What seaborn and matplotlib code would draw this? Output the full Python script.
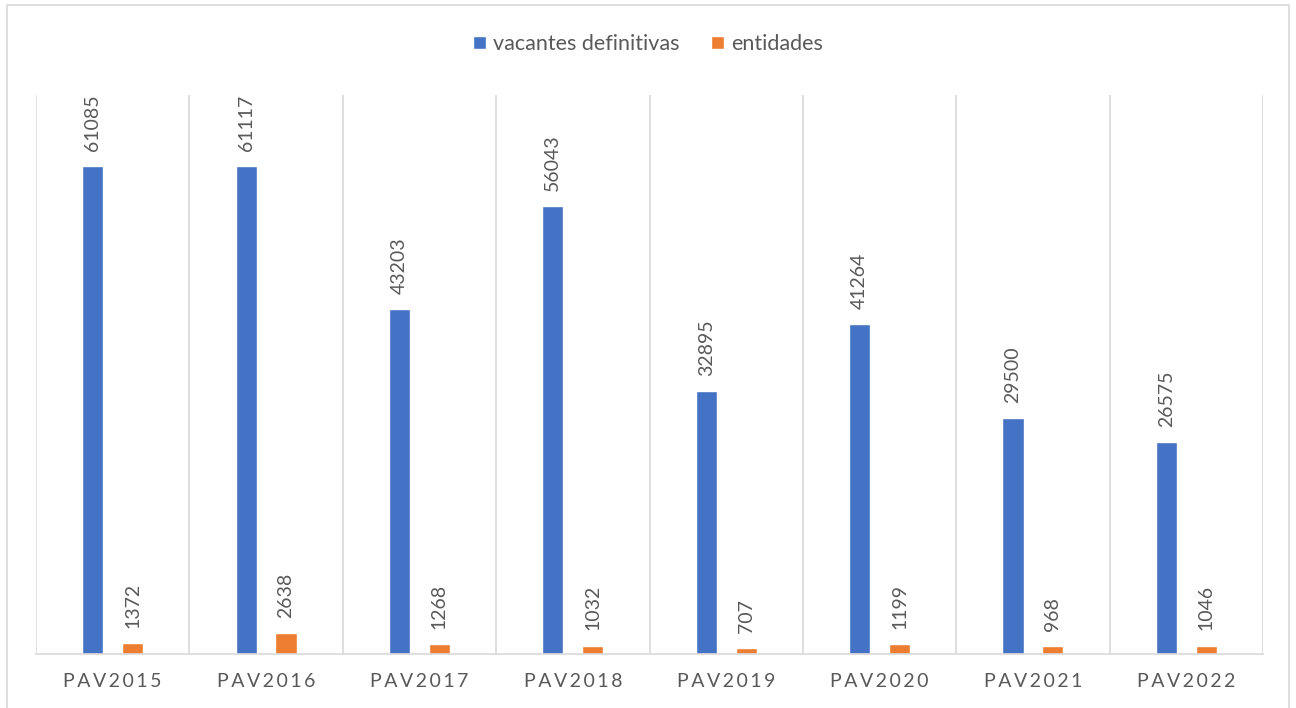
import matplotlib
matplotlib.use("Agg")
import matplotlib.pyplot as plt
import seaborn as sns
import pandas as pd
from matplotlib.patches import Rectangle

categories = ["PAV2015", "PAV2016", "PAV2017", "PAV2018", "PAV2019", "PAV2020", "PAV2021", "PAV2022"]
vacantes = [61085, 61117, 43203, 56043, 32895, 41264, 29500, 26575]
entidades = [1372, 2638, 1268, 1032, 707, 1199, 968, 1046]
series_names = ["vacantes definitivas", "entidades"]
colors = ["#4472C4", "#ED7D31"]

df = pd.DataFrame({
    "cat": categories * 2,
    "valor": vacantes + entidades,
    "serie": [series_names[0]] * len(categories) + [series_names[1]] * len(categories),
})

sns.set_style("white")
plt.rcParams['font.family'] = ['Lato', 'DejaVu Sans']

TXT = "#595959"
GRID = "#D9D9D9"

fig = plt.figure(figsize=(12.96, 7.08), dpi=100)
ax = fig.add_axes([36 / 1296, 1 - 654 / 708, (1263 - 36) / 1296, (654 - 95) / 708])
sns.barplot(data=df, x="cat", y="valor", hue="serie", palette=colors,
            width=0.52, gap=0.47, saturation=1, ax=ax)

for cont in ax.containers:
    ax.bar_label(cont, fmt="{:.0f}", rotation=90, padding=11, color=TXT, fontsize=14)

ax.set_xlim(-0.5, len(categories) - 0.5)
ax.set_ylim(0, 70000)
ax.set_yticks([])
ax.set_xlabel("")
ax.set_ylabel("")
ax.set_xticks(range(len(categories)))
ax.set_xticklabels(["\u2009".join(c) for c in categories], color=TXT, fontsize=14)
ax.tick_params(axis="x", which="both", length=0, pad=14)
ax.set_xticks([i - 0.5 for i in range(len(categories) + 1)], minor=True)
ax.grid(which="minor", axis="x", color=GRID, lw=1.2)
ax.grid(which="major", visible=False)
ax.set_axisbelow(True)
for s in ["top", "left", "right"]:
    ax.spines[s].set_visible(False)
ax.spines["bottom"].set_color(GRID)
ax.spines["bottom"].set_linewidth(1.2)

handles, labels = ax.get_legend_handles_labels()
ax.get_legend().remove()
fig.legend(handles, labels, loc="center", bbox_to_anchor=(0.5, 1 - 44 / 708), ncol=2,
           frameon=False, fontsize=15.5, labelcolor=TXT, handlelength=0.6, handleheight=0.6,
           handletextpad=0.3, columnspacing=1.5)

fig.add_artist(Rectangle((7 / 1296, -0.02), (1289 - 7) / 1296, 1.02 - 5 / 708,
                         transform=fig.transFigure, fill=False, ec=GRID, lw=1.2))

fig.savefig("out.png", dpi=100)
